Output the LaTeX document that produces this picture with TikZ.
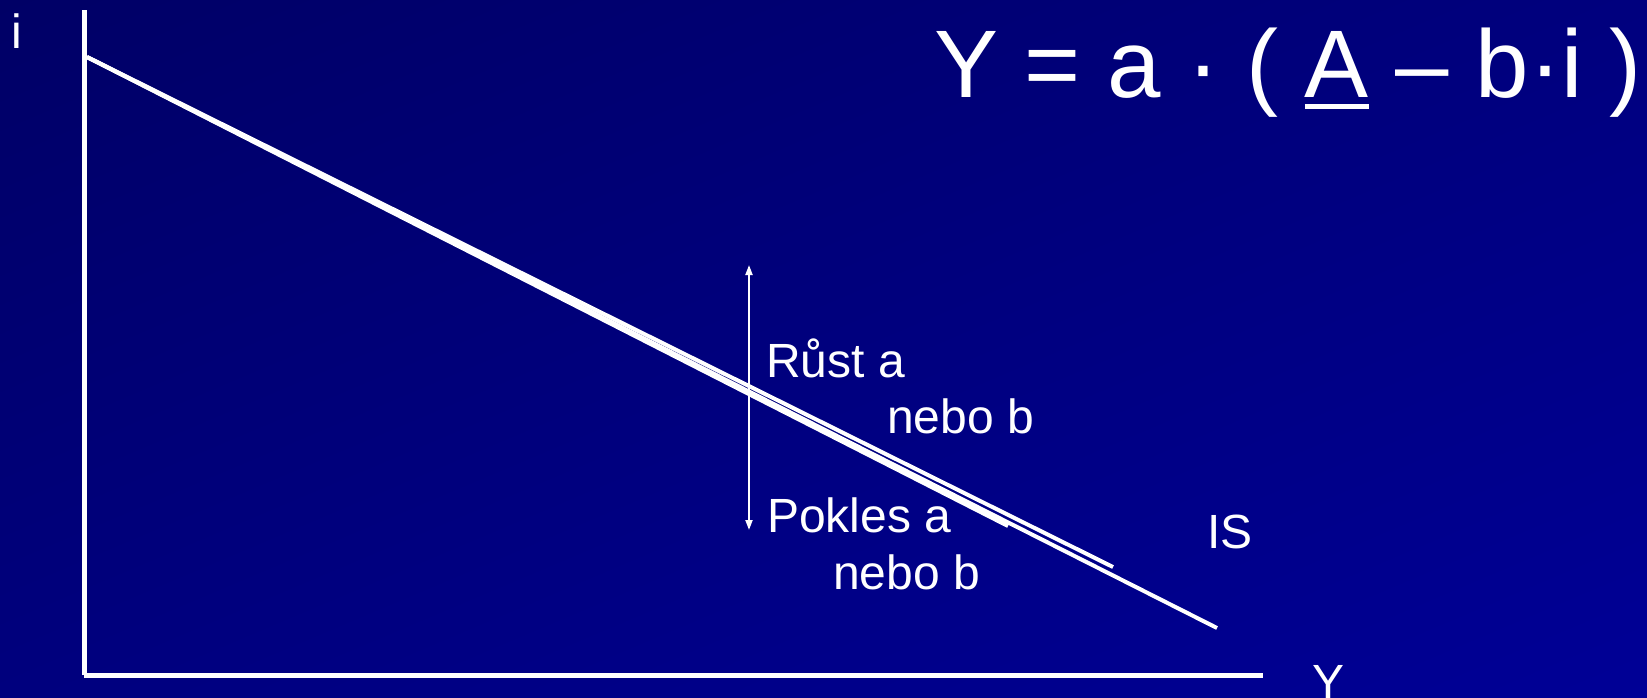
\documentclass[tikz,border=0pt]{standalone}
\usepackage{fontspec}
\setmainfont{Liberation Sans}
\usetikzlibrary{arrows.meta,positioning,shadings}
\definecolor{slidedark}{HTML}{000066}
\definecolor{slidemid}{HTML}{00007E}
\definecolor{slidelight}{HTML}{000096}

\begin{document}
\begin{tikzpicture}[
    x=1pt, y=-1pt,
    axis/.style={draw=white, line width=5pt},
    curve/.style={draw=white, line width=4pt},
    label/.style={text=white, inner sep=0pt, anchor=base west, font=\fontsize{48}{56}\selectfont},
    formula/.style={text=white, inner sep=0pt, anchor=base west, font=\fontsize{96}{106}\selectfont}
]
\shade[upper left=slidedark, upper right=slidemid, lower left=slidemid, lower right=slidelight] (0,0) rectangle (1647,697);
\useasboundingbox (0,0) rectangle (1647,697);

% axes
\coordinate (o) at (84,675);
\coordinate (itop) at (84,10);
\coordinate (yend) at (1263,675);
\draw[axis] (o) -- (itop);
\draw[axis] (o) -- (yend);
\node[label] (ilab) at (11,48) {i};
\node[label] (ylab) at (1312,698) {Y};

% IS curve and its rotations
\coordinate (is0) at (87,57);
\coordinate (is1) at (1217,628);
\coordinate (is2) at (1113,567);
\coordinate (is3) at (1008,526);
\draw[curve] (is0) -- (is1);
\draw[curve] (is0) -- (is2);
\draw[curve] (is0) -- (is3);
\node[label] (islab) at (1207,548) {IS};

% shift arrow
\coordinate (up) at (749,265);
\coordinate (down) at (749,530);
\draw[white, line width=2pt, {Triangle[length=10pt,width=7pt]}-{Triangle[length=10pt,width=7pt]}] (up) -- (down);
\node[label] (rust) at (766,377) {Růst a};
\node[label] (rustb) at (887,433) {nebo b};
\node[label] (pokles) at (767,532) {Pokles a};
\node[label] (poklesb) at (833,589) {nebo b};

% equation
\node[formula] (eq) at (934,97) {Y = a · ( \rlap{\rule[-12pt]{0.667em}{5pt}}A – b·i )};
\end{tikzpicture}
\end{document}
